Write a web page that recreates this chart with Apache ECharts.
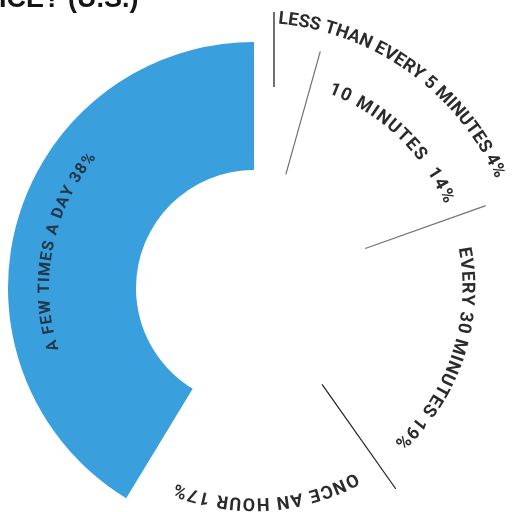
<!DOCTYPE html>
<html><head><meta charset="utf-8">
<script src="https://cdn.jsdelivr.net/npm/echarts@6/dist/echarts.min.js"></script>
<style>html,body{margin:0;padding:0;background:#fff}#c{width:512px;height:512px}</style>
</head><body><div id="c"></div>
<script>
// ---- data ----
const categories = ['LESS THAN EVERY 5 MINUTES', '10 MINUTES', 'EVERY 30 MINUTES', 'ONCE AN HOUR', 'A FEW TIMES A DAY'];
const values = [4, 14, 19, 17, 38];
const highlighted = [false, false, false, false, true];
const labelSeparators = [' ', '  ', ' ', ' ', ' '];
const titleText = 'ICE? (U.S.)';

// ---- style ----
const CX = 254, CY = 288, R0 = 118, R1 = 246;
const labelRadius = [270, 213, 213, 215, 209];
const labelFontSize = [18, 18, 18, 18, 16];
const labelSpacing = [0.2, 1.6, 0.9, 1.4, 1.3];
const labelShiftDeg = [27.6, 0.5, 0.7, -1.5, -4.6];
const labelColor = ['#2b2b2b', '#2b2b2b', '#2b2b2b', '#2b2b2b', '#22364a'];
const sepColors = ['#6e6e6e', '#707070', '#1e1e1e', '#1e1e1e', '#1e1e1e'];
const FONT = 'Roboto';

const TOTAL = values.reduce((a, b) => a + b, 0);
const cum = [0];
values.forEach(v => cum.push(cum[cum.length - 1] + v));
const labelTexts = categories.map((c, i) => c + labelSeparators[i] + values[i] + '%');

const mctx = document.createElement('canvas').getContext('2d');
const widths = labelTexts.map((t, i) => {
  mctx.font = 'bold ' + labelFontSize[i] + 'px ' + FONT;
  return [...t].map(ch => mctx.measureText(ch).width);
});

const separatorSeries = [];
for (let k = 0; k < values.length - 1; k++) {
  if (highlighted[k] || highlighted[k + 1]) continue;
  separatorSeries.push({
    type: 'line', coordinateSystem: 'polar', silent: true, animation: false,
    symbol: 'none', z: 5,
    lineStyle: { color: sepColors[k], width: 1.2 },
    data: [[R0, cum[k + 1]], [R1, cum[k + 1]]]
  });
}

const chart = echarts.init(document.getElementById('c'), null, { renderer: 'canvas' });
chart.setOption({
  animation: false,
  backgroundColor: '#ffffff',
  polar: { center: [CX, CY], radius: R1 },
  angleAxis: { type: 'value', min: 0, max: TOTAL, startAngle: 90, clockwise: true, show: false },
  radiusAxis: { type: 'value', min: 0, max: R1, show: false },
  graphic: [
    { type: 'text', x: -1, y: 13, style: { text: titleText, font: 'bold 27px "Liberation Sans"', fill: '#151515', textVerticalAlign: 'bottom', verticalAlign: 'bottom' } },
    { type: 'line', shape: { x1: 274, y1: 12, x2: 274, y2: 87 }, style: { stroke: '#333', lineWidth: 1.4 } }
  ],
  series: [
    {
      type: 'pie', center: [CX, CY], radius: [R0, R1], startAngle: 90, clockwise: true,
      silent: true, z: 1, label: { show: false }, labelLine: { show: false },
      data: categories.map((c, i) => ({
        name: c, value: values[i],
        itemStyle: { color: highlighted[i] ? '#3A9FDD' : 'rgba(255,255,255,0)', borderWidth: 0 }
      }))
    },
    ...separatorSeries,
    {
      type: 'custom', coordinateSystem: 'polar', silent: true, animation: false, z: 10, clip: false,
      data: categories.map((c, i) => [labelRadius[i], (cum[i] + cum[i + 1]) / 2, i]),
      renderItem: function (params, api) {
        const i = api.value(2);
        const r = api.value(0);
        const mid = api.value(1) + labelShiftDeg[i] / 360 * TOTAL;
        const cs = params.coordSys;
        const chars = [...labelTexts[i]];
        const ws = widths[i];
        const sp = labelSpacing[i];
        const arc = ws.reduce((a, b) => a + b, 0) + sp * (chars.length - 1);
        let s = -arc / 2;
        const children = [];
        chars.forEach((ch, k) => {
          const off = s + ws[k] / 2;
          s += ws[k] + sp;
          if (ch === ' ') return;
          const dv = (off / r) / (2 * Math.PI) * TOTAL;
          const p = api.coord([r, mid + dv]);
          const theta = Math.atan2(p[0] - cs.cx, -(p[1] - cs.cy));
          children.push({
            type: 'text', x: p[0], y: p[1], rotation: -theta, z2: 100,
            style: {
              text: ch, font: 'bold ' + labelFontSize[i] + 'px ' + FONT, fill: labelColor[i],
              align: 'center', verticalAlign: 'middle'
            }
          });
        });
        return { type: 'group', children: children };
      }
    }
  ]
});
</script></body></html>
